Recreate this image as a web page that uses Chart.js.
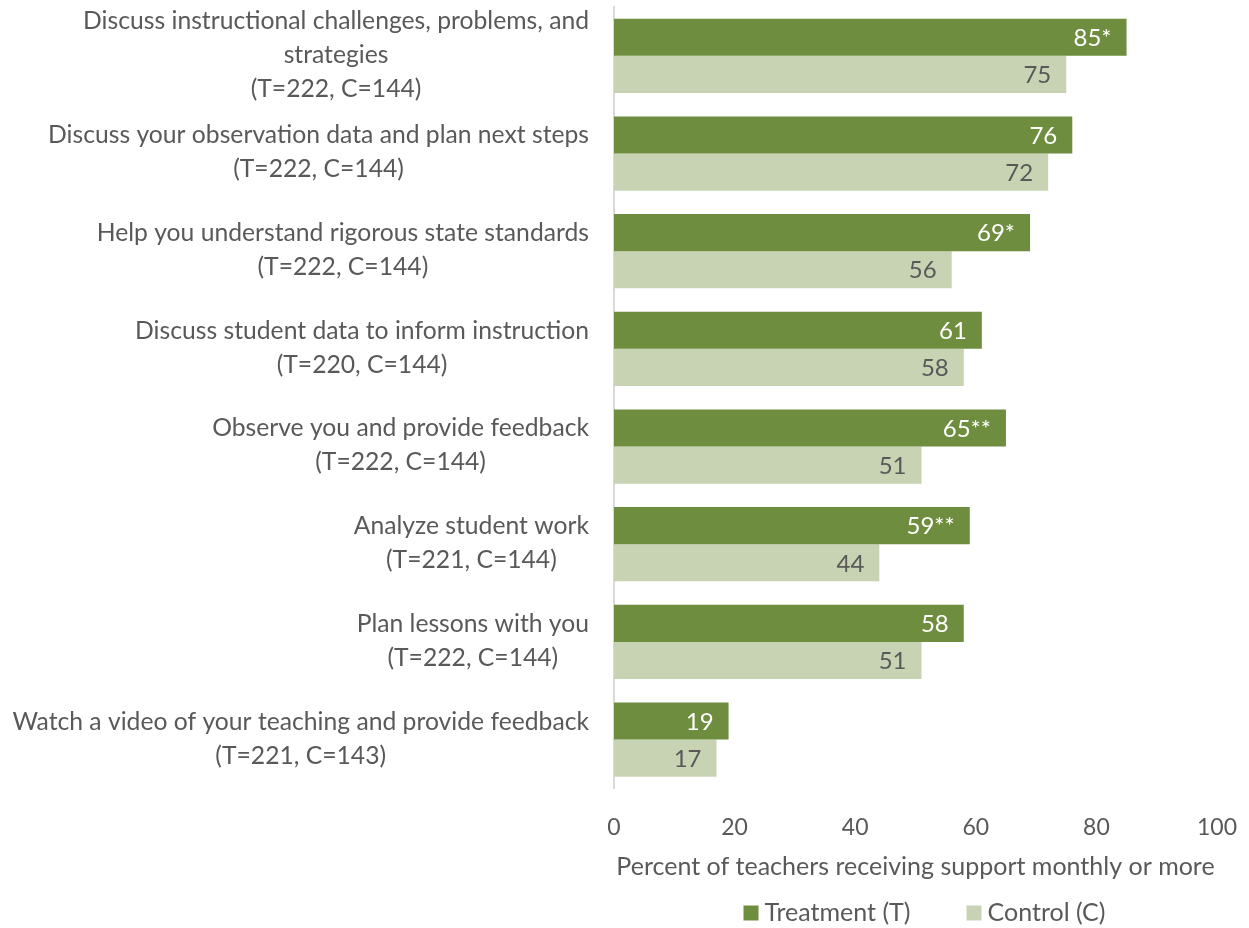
<!DOCTYPE html>
<html>
<head>
<meta charset="utf-8">
<script src="https://cdn.jsdelivr.net/npm/chart.js@4.4.1/dist/chart.umd.min.js"></script>
<style>
  html, body { margin: 0; padding: 0; background: #fff; }
  #wrap { width: 1249px; height: 928px; }
</style>
</head>
<body>
<div id="wrap"><canvas id="chart"></canvas></div>
<script>
// each category is drawn as a block of centred lines
const categories = [
  ["Discuss instructional challenges, problems, and", "strategies", "(T=222, C=144)"],
  ["Discuss your observation data and plan next steps", "(T=222, C=144)"],
  ["Help you understand rigorous state standards", "(T=222, C=144)"],
  ["Discuss student data to inform instruction", "(T=220, C=144)"],
  ["Observe you and provide feedback", "(T=222, C=144)"],
  ["Analyze student work", "(T=221, C=144)"],
  ["Plan lessons with you", "(T=222, C=144)"],
  ["Watch a video of your teaching and provide feedback", "(T=221, C=143)"]
];
const treatment = [85, 76, 69, 61, 65, 59, 58, 19];
const control = [75, 72, 56, 58, 51, 44, 51, 17];
const significance = ["*", "", "*", "", "**", "**", "", ""];
const xTicks = [0, 20, 40, 60, 80, 100];

const TEXT = "#595959";
const FONT = "Lato";
const WORD_SIZE = 25;
const NUM_SIZE = 23;
const LINE_H = 34;

Chart.defaults.font.family = FONT;
Chart.defaults.font.size = NUM_SIZE;
Chart.defaults.color = TEXT;

// category text on the left, right-aligned blocks with centred lines
const categoryLabels = {
  id: "categoryLabels",
  afterDraw(chart) {
    const y = chart.scales.y;
    const ctx = chart.ctx;
    ctx.save();
    ctx.font = `24.7px ${FONT}`;
    ctx.fillStyle = TEXT;
    ctx.textAlign = "center";
    ctx.textBaseline = "middle";
    chart.data.labels.forEach((lines, i) => {
      const mid = y.getPixelForValue(i) - 1;
      const w = Math.max(...lines.map(l => ctx.measureText(l).width));
      const cx = y.right - 25 - w / 2;
      lines.forEach((line, j) => {
        ctx.fillText(line, cx, mid + (j - (lines.length - 1) / 2) * LINE_H);
      });
    });
    ctx.restore();
  }
};

// value labels inside the end of each bar
const barValues = {
  id: "barValues",
  afterDatasetsDraw(chart) {
    const ctx = chart.ctx;
    ctx.save();
    ctx.font = `24px ${FONT}`;
    ctx.textAlign = "right";
    ctx.textBaseline = "middle";
    chart.data.datasets.forEach((ds, di) => {
      ctx.fillStyle = ds.valueColor;
      chart.getDatasetMeta(di).data.forEach((bar, i) => {
        const text = ds.data[i] + (ds.marks ? ds.marks[i] : "");
        ctx.fillText(text, bar.x - 15, bar.y + 1);
      });
    });
    ctx.restore();
  }
};

// legend row under the axis title
const legendRow = {
  id: "legendRow",
  afterDraw(chart) {
    const ctx = chart.ctx;
    const area = chart.chartArea;
    const box = 15, gap = 6, space = 56;
    ctx.save();
    ctx.font = `${WORD_SIZE}px ${FONT}`;
    ctx.textBaseline = "middle";
    ctx.textAlign = "left";
    const items = chart.data.datasets.map(ds => ({
      label: ds.label, color: ds.backgroundColor,
      w: box + gap + ctx.measureText(ds.label).width
    }));
    const total = items.reduce((s, it) => s + it.w, 0) + space * (items.length - 1);
    let x = (area.left + area.right) / 2 - total / 2 + 9;
    const y = chart.height - 15;
    items.forEach(it => {
      ctx.fillStyle = it.color;
      ctx.fillRect(x, y - box / 2, box, box);
      ctx.fillStyle = TEXT;
      ctx.fillText(it.label, x + box + gap, y);
      x += it.w + space;
    });
    ctx.restore();
  }
};

new Chart(document.getElementById("chart"), {
  type: "bar",
  data: {
    labels: categories,
    datasets: [
      {
        label: "Treatment (T)",
        data: treatment,
        marks: significance,
        backgroundColor: "#6F8D3E",
        valueColor: "#FFFFFF"
      },
      {
        label: "Control (C)",
        data: control,
        backgroundColor: "#C7D3B3",
        valueColor: TEXT
      }
    ]
  },
  options: {
    indexAxis: "y",
    responsive: true,
    maintainAspectRatio: false,
    animation: false,
    layout: { padding: { top: 7, right: 32, bottom: 48, left: 0 } },
    datasets: {
      bar: { barPercentage: 1, categoryPercentage: 0.76, borderWidth: 0 }
    },
    scales: {
      x: {
        min: xTicks[0],
        max: xTicks[xTicks.length - 1],
        ticks: { stepSize: xTicks[1] - xTicks[0], padding: 25 },
        grid: { display: false, drawTicks: false },
        border: { display: false },
        title: {
          display: true,
          text: "Percent of teachers receiving support monthly or more",
          font: { size: WORD_SIZE },
          padding: { top: -14, bottom: -2 }
        },
        // the end labels may overhang; the right edge is set by layout padding
        afterFit(scale) {
          scale.paddingLeft = 0;
          scale.paddingRight = 0;
        }
      },
      y: {
        ticks: { display: false },
        grid: { display: false, drawTicks: false },
        border: { display: true, color: "#D9D9D9", width: 2 },
        afterFit(scale) { scale.width = 614; }
      }
    },
    plugins: {
      legend: { display: false },
      tooltip: { enabled: false }
    }
  },
  plugins: [categoryLabels, barValues, legendRow]
});
</script>
</body>
</html>
